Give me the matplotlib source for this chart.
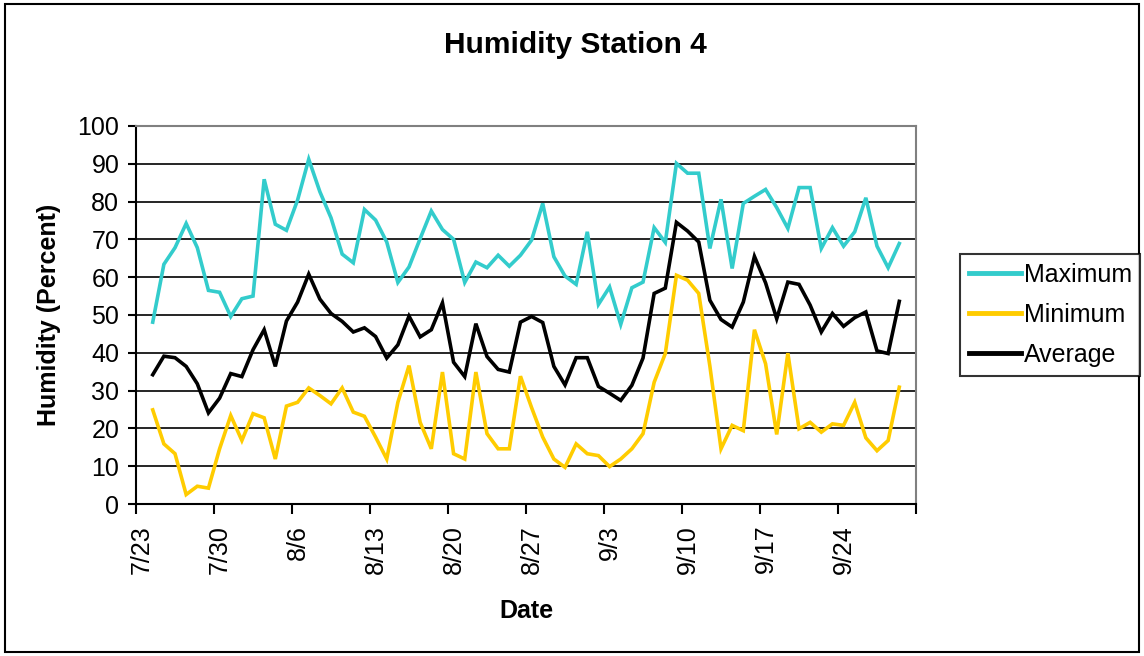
import numpy as np
import pandas as pd
import matplotlib
matplotlib.use("Agg")
import matplotlib.pyplot as plt
from matplotlib.patches import Rectangle
from matplotlib.transforms import ScaledTranslation

plt.rcParams['font.family'] = ['Liberation Sans', 'DejaVu Sans']

# daily readings, 7/24 .. 9/29
dates = pd.date_range('2005-07-24', periods=68, freq='D')

maximum = [48.1, 63.4, 67.8, 74.2, 67.8, 56.5, 56.0, 49.6, 54.3, 55.0,
           85.9, 74.0, 72.4, 80.4, 91.2, 82.6, 75.7, 66.1, 63.8, 77.9,
           75.1, 69.3, 58.6, 62.7, 70.2, 77.5, 72.6, 70.0, 58.6, 64.0,
           62.5, 65.8, 62.9, 65.8, 69.8, 79.5, 65.4, 60.3, 58.1, 72.0,
           52.8, 57.4, 47.5, 57.2, 58.7, 73.1, 69.2, 90.1, 87.5, 87.5,
           67.6, 80.6, 62.3, 79.5, 81.4, 83.2, 78.4, 72.9, 83.7, 83.7,
           67.6, 73.1, 68.2, 72.0, 81.0, 68.2, 62.5, 68.9]

minimum = [24.9, 15.9, 13.3, 2.5, 4.7, 4.2, 14.6, 23.4, 16.8, 23.9,
           22.8, 11.9, 25.9, 26.9, 30.7, 28.7, 26.5, 30.7, 24.3, 23.2,
           17.7, 11.9, 26.9, 36.6, 21.6, 14.6, 34.9, 13.3, 11.9, 34.9,
           18.6, 14.6, 14.6, 33.8, 25.5, 17.7, 11.9, 9.7, 15.9, 13.3,
           12.8, 9.9, 11.9, 14.6, 18.6, 32.2, 39.8, 60.5, 59.2, 55.7,
           36.5, 14.6, 20.8, 19.4, 46.1, 37.1, 18.4, 39.9, 19.9, 21.6,
           19.0, 21.2, 20.8, 26.9, 17.5, 14.1, 16.8, 30.9]

average = [34.2, 39.1, 38.7, 36.4, 31.8, 24.1, 28.0, 34.5, 33.7, 40.8,
           46.1, 36.4, 48.4, 53.4, 60.8, 54.2, 50.4, 48.3, 45.5, 46.6,
           44.3, 38.6, 42.1, 49.7, 44.2, 46.1, 53.2, 37.5, 33.7, 47.7,
           39.0, 35.6, 34.9, 48.1, 49.6, 48.0, 36.4, 31.5, 38.7, 38.7,
           31.1, 29.3, 27.4, 31.4, 38.6, 55.7, 57.1, 74.5, 72.2, 69.3,
           53.9, 48.8, 46.8, 53.4, 65.5, 58.5, 49.0, 58.7, 58.1, 52.6,
           45.5, 50.4, 47.0, 49.3, 50.8, 40.5, 39.8, 53.6]

series_names = ['Maximum', 'Minimum', 'Average']
series_colors = ['#33CCCC', '#FFCC00', '#000000']

start = pd.Timestamp('2005-07-23')
end = pd.Timestamp('2005-10-01')
x = (dates - start).days.values + 0.5
week_ticks = pd.date_range(start, end, freq='7D')
tick_pos = (week_ticks - start).days.values
tick_labels = [f"{d.month}/{d.day}" for d in week_ticks[:-1]] + ['']

fig = plt.figure(figsize=(11.44, 6.56), dpi=100)
ax = fig.add_axes([0.1189, 0.2317, 0.6818, 0.5763])

for vals, name, col in zip([maximum, minimum, average], series_names, series_colors):
    ax.plot(x, vals, color=col, lw=2.6, label=name, solid_joinstyle='miter')

ax.set_xlim(0, (end - start).days)
ax.set_ylim(0, 100)
ax.set_yticks(np.arange(0, 101, 10))
ax.set_xticks(tick_pos)
ax.set_xticklabels(tick_labels, rotation=90, fontsize=18)
ax.tick_params(axis='y', labelsize=18, direction='out', length=6, width=1.5, pad=6)
ax.tick_params(axis='x', direction='out', length=7, width=1.5, pad=8)
ax.yaxis.grid(True, color='black', lw=1.2)
ax.set_axisbelow(True)

# Excel draws the rotated labels a little right of the tick
shift = ScaledTranslation(6 / 100, 0, fig.dpi_scale_trans)
for lab in ax.get_xticklabels():
    lab.set_transform(lab.get_transform() + shift)

for side in ['top', 'right']:
    ax.spines[side].set_color('#808080')
    ax.spines[side].set_linewidth(1.5)
for side in ['left', 'bottom']:
    ax.spines[side].set_color('black')
    ax.spines[side].set_linewidth(1.5)

fig.text(0.503, 0.931, 'Humidity Station 4', fontsize=21.5, fontweight='bold',
         ha='center', va='center')
ax.set_xlabel('Date', fontsize=18, fontweight='bold', labelpad=18)
ax.set_ylabel('Humidity (Percent)', fontsize=18, fontweight='bold', labelpad=12)

leg = fig.legend(loc='center left', bbox_to_anchor=(0.839, 0.52), fontsize=18,
                 frameon=True, fancybox=False, edgecolor='black',
                 handlelength=2.1, handletextpad=0.1, labelspacing=0.65,
                 borderpad=0.35, borderaxespad=0)
leg.get_frame().set_linewidth(1.5)
for h in leg.get_lines():
    h.set_linewidth(3.5)

# chart area border
fig.patches.append(Rectangle((0.004, 0.006), 0.992, 0.988, transform=fig.transFigure,
                             fill=False, edgecolor='black', lw=1.5))

fig.savefig('out.png', dpi=100)
